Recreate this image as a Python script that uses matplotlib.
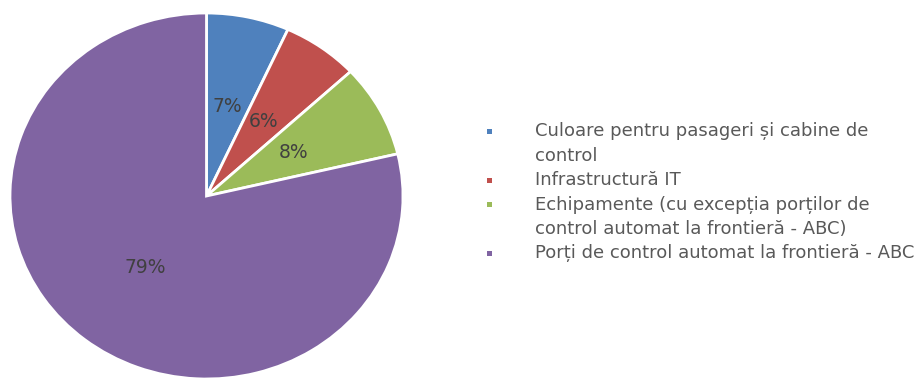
import matplotlib
matplotlib.use("Agg")
import matplotlib.pyplot as plt

categories = [
    "Culoare pentru pasageri și cabine de\ncontrol",
    "Infrastructură IT",
    "Echipamente (cu excepția porților de\ncontrol automat la frontieră - ABC)",
    "Porți de control automat la frontieră - ABC",
]
values = [6.8, 6.3, 8.2, 78.7]
colors = ["#4F81BD", "#C0504D", "#9BBB59", "#8064A2"]

W, H = 924, 379
fig = plt.figure(figsize=(W / 100, H / 100), dpi=100)
fig.patch.set_facecolor("white")

# pie axes (pie is slightly elliptical in the reference)
left, right, top, bottom = 10, 403, 13, 379
ax = fig.add_axes([left / W, 1 - bottom / H, (right - left) / W, (bottom - top) / H])
wedges, texts, autotexts = ax.pie(
    values, colors=colors, startangle=90, counterclock=False,
    autopct=lambda p: f"{p:.0f}%", pctdistance=0.5,
    wedgeprops=dict(edgecolor="white", linewidth=2),
    textprops=dict(fontsize=13.5, color="#404040"),
)
ax.set_aspect("auto")
ax.set_xlim(-1.0, 1.0)
ax.set_ylim(-1.0, 1.0)
ax.axis("off")

# legend drawn manually
y0 = 131
line_h = 24.5
y = y0
for cat, col in zip(categories, colors):
    lines = cat.split("\n")
    fig.patches.append(plt.Rectangle(((489 - 2.5) / W, 1 - (y + 2.5) / H), 5 / W, 5 / H,
                                     transform=fig.transFigure, facecolor=col, edgecolor="none"))
    for ln in lines:
        fig.text(535 / W, 1 - y / H, ln, fontsize=13, color="#595959",
                 va="center", ha="left")
        y += line_h

fig.savefig("out.png", dpi=100, facecolor="white")
